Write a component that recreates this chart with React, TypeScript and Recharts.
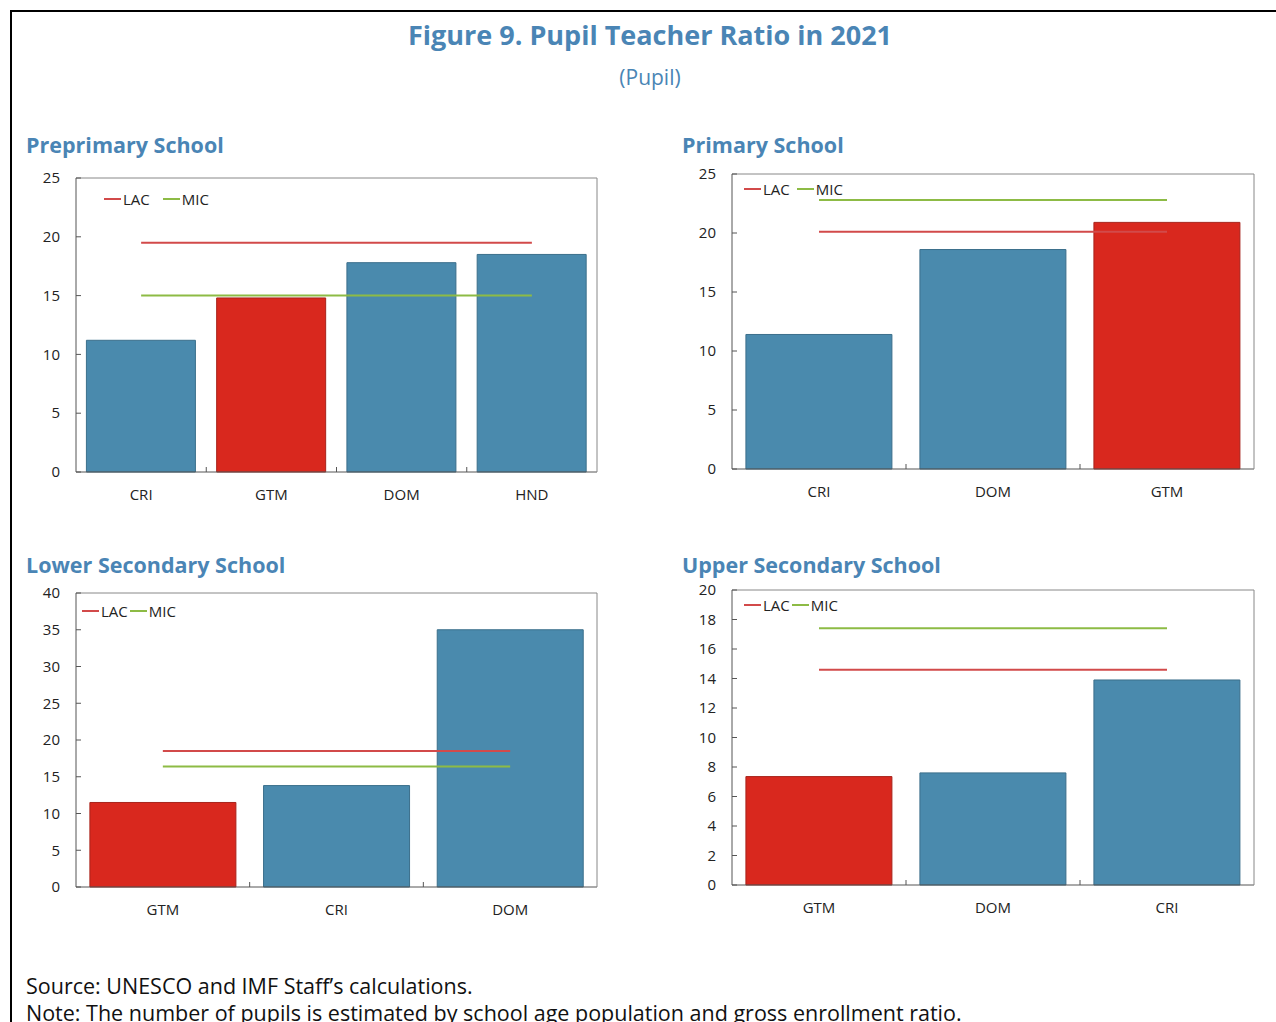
import React from "react";
import { ComposedChart, Bar, Line, XAxis, YAxis, Cell } from "recharts";

// Preprimary
const preCats = ["CRI", "GTM", "DOM", "HND"];
const preVals = [11.2, 14.8, 17.8, 18.5];
const preLAC = 19.5;
const preMIC = 15.0;
const preTicks = [0, 5, 10, 15, 20, 25];

// Primary
const priCats = ["CRI", "DOM", "GTM"];
const priVals = [11.4, 18.6, 20.9];
const priLAC = 20.1;
const priMIC = 22.8;
const priTicks = [0, 5, 10, 15, 20, 25];

// Lower secondary
const lowCats = ["GTM", "CRI", "DOM"];
const lowVals = [11.5, 13.8, 35.0];
const lowLAC = 18.5;
const lowMIC = 16.4;
const lowTicks = [0, 5, 10, 15, 20, 25, 30, 35, 40];

// Upper secondary
const uppCats = ["GTM", "DOM", "CRI"];
const uppVals = [7.35, 7.6, 13.9];
const uppLAC = 14.6;
const uppMIC = 17.4;
const uppTicks = [0, 2, 4, 6, 8, 10, 12, 14, 16, 18, 20];

const HIGHLIGHT = "GTM";

const BLUE = "#4a8aad";
const RED = "#d9281e";
const LAC_COLOR = "#d24a4a";
const MIC_COLOR = "#8dbb45";
const TITLE_BLUE = "#4a85b5";
const FONT = "'Open Sans', 'Noto Sans', sans-serif";

const buildRows = (cats: string[], vals: number[], lac: number, mic: number) =>
  cats.map((c, i) => ({ cat: c, value: vals[i], lac, mic }));

interface PanelProps {
  title: string;
  titleY: number;
  cats: string[];
  vals: number[];
  lac: number;
  mic: number;
  ticks: number[];
  plotLeft: number;
  plotTop: number;
  plotW: number;
  plotH: number;
  legendX: number;
  legendY: number;
  legendGap: number;
}

function Panel(p: PanelProps) {
  const rows = buildRows(p.cats, p.vals, p.lac, p.mic);
  const yMax = p.ticks[p.ticks.length - 1];
  const band = p.plotW / p.cats.length;

  // y ticks: label outside, tick mark inside
  const YTick = (props: any) => {
    const { x, y, payload } = props;
    return (
      <g>
        <line x1={x} y1={y} x2={x + 5} y2={y} stroke="#555" />
        <text x={x - 16} y={y} dy="0.35em" textAnchor="end" fontSize={15} fill="#222" fontFamily={FONT}>
          {payload.value}
        </text>
      </g>
    );
  };

  // x ticks: label centred, little inward tick at category boundary
  const XTick = (props: any) => {
    const { x, y, payload, index } = props;
    return (
      <g>
        {index < p.cats.length - 1 && (
          <line x1={x + band / 2} y1={y} x2={x + band / 2} y2={y - 5} stroke="#555" />
        )}
        <text x={x} y={y + 17} dy="0.71em" textAnchor="middle" fontSize={15} fill="#222" fontFamily={FONT}>
          {payload.value}
        </text>
      </g>
    );
  };

  return (
    <>
      <div
        style={{
          position: "absolute",
          left: p.plotLeft - 50,
          top: p.titleY - 15,
          fontFamily: FONT,
          fontWeight: 700,
          fontSize: 21.5,
          color: TITLE_BLUE,
          whiteSpace: "nowrap",
          lineHeight: "30px",
        }}
      >
        {p.title}
      </div>
      <div style={{ position: "absolute", left: p.plotLeft - 50, top: p.plotTop - 10 }}>
        <ComposedChart
          width={50 + p.plotW + 10}
          height={10 + p.plotH + 35}
          data={rows}
          margin={{ top: 9, right: 9, bottom: 5, left: 0 }}
          barCategoryGap="8%"
        >
          <XAxis
            xAxisId="cat"
            dataKey="cat"
            height={30}
            axisLine={{ stroke: "#555" }}
            tickLine={false}
            tickSize={0}
            tickMargin={0}
            tick={<XTick />}
            interval={0}
          />
          <XAxis xAxisId="top" orientation="top" dataKey="cat" height={1} tick={false} tickLine={false} axisLine={{ stroke: "#888" }} />
          <YAxis
            yAxisId="val"
            width={50}
            domain={[0, yMax]}
            ticks={p.ticks}
            axisLine={{ stroke: "#555" }}
            tickLine={false}
            tickSize={0}
            tickMargin={0}
            tick={<YTick />}
            interval={0}
          />
          <YAxis yAxisId="right" orientation="right" width={1} tick={false} tickLine={false} axisLine={{ stroke: "#888" }} />
          <Bar xAxisId="cat" yAxisId="val" dataKey="value" stroke="#3b6f8b" strokeWidth={1} isAnimationActive={false}>
            {rows.map((r, i) => (
              <Cell key={`c-${i}`} fill={r.cat === HIGHLIGHT ? RED : BLUE} stroke={r.cat === HIGHLIGHT ? "#a8231b" : "#3b6f8b"} />
            ))}
          </Bar>
          <Line xAxisId="cat" yAxisId="val" type="linear" dataKey="lac" stroke={LAC_COLOR} strokeWidth={2} dot={false} isAnimationActive={false} />
          <Line xAxisId="cat" yAxisId="val" type="linear" dataKey="mic" stroke={MIC_COLOR} strokeWidth={2} dot={false} isAnimationActive={false} />
        </ComposedChart>
      </div>
      {/* legend */}
      <div
        style={{
          position: "absolute",
          left: p.legendX,
          top: p.legendY - 10,
          height: 20,
          display: "flex",
          alignItems: "center",
          fontFamily: FONT,
          fontSize: 15,
          color: "#222",
          gap: p.legendGap,
          whiteSpace: "nowrap",
        }}
      >
        <span style={{ display: "flex", alignItems: "center" }}>
          <span style={{ display: "inline-block", width: 17, height: 2, background: LAC_COLOR, marginRight: 2 }} />
          LAC
        </span>
        <span style={{ display: "flex", alignItems: "center" }}>
          <span style={{ display: "inline-block", width: 17, height: 2, background: MIC_COLOR, marginRight: 2 }} />
          MIC
        </span>
      </div>
    </>
  );
}

export default function App() {
  return (
    <div
      style={{
        position: "absolute",
        left: 0,
        top: 0,
        width: 1276,
        height: 1022,
        overflow: "hidden",
        background: "#fff",
        fontFamily: FONT,
      }}
    >
      <div
        style={{
          position: "absolute",
          left: 10,
          top: 10,
          width: 1270,
          height: 1040,
          border: "2px solid #000",
        }}
      />
      <div
        style={{
          position: "absolute",
          left: 0,
          width: 1300,
          top: 16,
          textAlign: "center",
          fontWeight: 700,
          fontSize: 27,
          color: TITLE_BLUE,
          lineHeight: "38px",
        }}
      >
        Figure 9. Pupil Teacher Ratio in 2021
      </div>
      <div
        style={{
          position: "absolute",
          left: 0,
          width: 1300,
          top: 62,
          textAlign: "center",
          fontSize: 21,
          color: TITLE_BLUE,
          lineHeight: "30px",
        }}
      >
        (Pupil)
      </div>

      <Panel title="Preprimary School" titleY={145} cats={preCats} vals={preVals} lac={preLAC} mic={preMIC} ticks={preTicks}
        plotLeft={76} plotTop={178} plotW={521} plotH={294} legendX={104} legendY={199} legendGap={13} />
      <Panel title="Primary School" titleY={145} cats={priCats} vals={priVals} lac={priLAC} mic={priMIC} ticks={priTicks}
        plotLeft={732} plotTop={174} plotW={522} plotH={295} legendX={744} legendY={189} legendGap={7} />
      <Panel title="Lower Secondary School" titleY={565} cats={lowCats} vals={lowVals} lac={lowLAC} mic={lowMIC} ticks={lowTicks}
        plotLeft={76} plotTop={593} plotW={521} plotH={294} legendX={82} legendY={611} legendGap={2} />
      <Panel title="Upper Secondary School" titleY={565} cats={uppCats} vals={uppVals} lac={uppLAC} mic={uppMIC} ticks={uppTicks}
        plotLeft={732} plotTop={590} plotW={522} plotH={295} legendX={744} legendY={605} legendGap={2} />

      <div style={{ position: "absolute", left: 26, top: 971, fontSize: 21.5, color: "#111", lineHeight: "30px", whiteSpace: "nowrap" }}>
        Source: UNESCO and IMF Staff’s calculations.
      </div>
      <div style={{ position: "absolute", left: 26, top: 998, fontSize: 21.5, color: "#111", lineHeight: "30px", whiteSpace: "nowrap" }}>
        Note: The number of pupils is estimated by school age population and gross enrollment ratio.
      </div>
    </div>
  );
}
